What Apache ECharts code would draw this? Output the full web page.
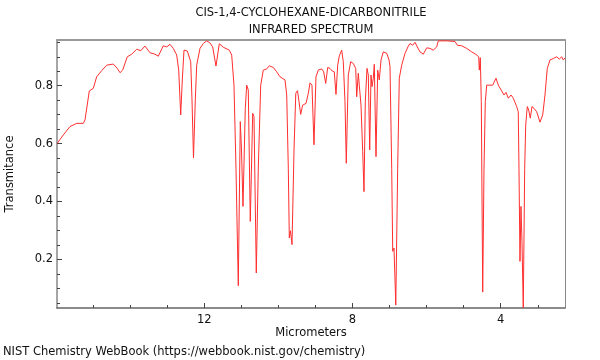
<!DOCTYPE html>
<html><head><meta charset="utf-8">
<script src="https://cdn.jsdelivr.net/npm/echarts@6/dist/echarts.min.js"></script>
<style>html,body{margin:0;padding:0;background:#fff}#c{width:600px;height:360px}</style>
</head><body><div id="c"></div>
<script>
const wavelength = [15.968,15.806,15.625,15.444,15.266,15.220,15.104,14.996,14.905,14.770,14.635,14.457,14.349,14.276,14.203,14.079,13.960,13.825,13.717,13.601,13.466,13.331,13.242,13.107,13.015,12.926,12.837,12.745,12.691,12.637,12.594,12.548,12.459,12.367,12.332,12.292,12.243,12.206,12.116,12.027,11.936,11.847,11.774,11.685,11.596,11.488,11.326,11.261,11.199,11.145,11.083,11.029,10.996,10.956,10.894,10.856,10.813,10.759,10.694,10.659,10.597,10.543,10.478,10.408,10.316,10.246,10.138,10.046,9.957,9.822,9.776,9.733,9.706,9.674,9.633,9.579,9.531,9.485,9.444,9.399,9.345,9.255,9.193,9.147,9.094,9.040,8.986,8.924,8.832,8.778,8.724,8.670,8.608,8.546,8.492,8.446,8.400,8.357,8.292,8.249,8.203,8.168,8.114,8.049,7.979,7.914,7.887,7.844,7.817,7.771,7.725,7.690,7.655,7.609,7.574,7.536,7.501,7.474,7.439,7.412,7.366,7.320,7.277,7.231,7.169,7.077,7.015,6.988,6.942,6.915,6.880,6.832,6.781,6.737,6.673,6.583,6.494,6.448,6.376,6.313,6.251,6.179,6.089,5.998,5.909,5.820,5.728,5.685,5.458,5.234,5.172,5.053,4.918,4.783,4.667,4.595,4.578,4.551,4.524,4.486,4.451,4.416,4.378,4.335,4.216,4.127,4.065,3.974,3.911,3.857,3.795,3.723,3.661,3.569,3.526,3.507,3.480,3.453,3.426,3.391,3.353,3.326,3.283,3.245,3.202,3.156,3.102,3.029,2.940,2.867,2.805,2.743,2.670,2.581,2.489,2.419,2.354,2.311,2.265];
const transmittance = [0.601,0.630,0.659,0.670,0.670,0.682,0.782,0.791,0.831,0.852,0.871,0.875,0.860,0.845,0.854,0.900,0.909,0.926,0.921,0.937,0.914,0.909,0.902,0.938,0.934,0.943,0.929,0.906,0.854,0.699,0.820,0.923,0.920,0.883,0.751,0.551,0.751,0.871,0.929,0.946,0.955,0.948,0.934,0.868,0.945,0.933,0.923,0.906,0.802,0.515,0.109,0.676,0.578,0.383,0.722,0.802,0.785,0.331,0.705,0.693,0.153,0.515,0.802,0.854,0.858,0.869,0.863,0.848,0.831,0.820,0.768,0.515,0.274,0.299,0.251,0.578,0.774,0.783,0.745,0.701,0.733,0.739,0.774,0.810,0.802,0.596,0.831,0.854,0.858,0.848,0.808,0.863,0.860,0.851,0.848,0.770,0.871,0.903,0.923,0.883,0.745,0.532,0.837,0.883,0.877,0.860,0.762,0.843,0.802,0.733,0.572,0.434,0.745,0.860,0.837,0.578,0.837,0.797,0.826,0.874,0.555,0.854,0.820,0.889,0.917,0.912,0.889,0.866,0.515,0.228,0.239,0.042,0.515,0.826,0.871,0.912,0.937,0.946,0.940,0.950,0.934,0.917,0.909,0.931,0.929,0.923,0.934,0.955,0.955,0.953,0.940,0.938,0.929,0.917,0.908,0.900,0.854,0.897,0.745,0.087,0.515,0.745,0.802,0.808,0.802,0.826,0.802,0.782,0.768,0.777,0.757,0.768,0.757,0.728,0.710,0.515,0.193,0.383,0.262,0.033,0.515,0.664,0.728,0.716,0.688,0.728,0.722,0.710,0.674,0.699,0.768,0.860,0.889,0.894,0.900,0.892,0.900,0.889,0.896];
const xLabelTicks = [4, 8, 12];
const xMinorTicks = [3, 5, 6, 7, 9, 10, 11, 13, 14, 15];
const yLabelTicks = [0.2, 0.4, 0.6, 0.8];
const yMinorTicks = [0.05, 0.1, 0.15, 0.25, 0.3, 0.35, 0.45, 0.5, 0.55, 0.65, 0.7, 0.75, 0.85, 0.9, 0.95];
const titleLines = ['CIS-1,4-CYCLOHEXANE-DICARBONITRILE', 'INFRARED SPECTRUM'];
const xName = 'Micrometers';
const yName = 'Transmitance';
const credit = 'NIST Chemistry WebBook (https://webbook.nist.gov/chemistry)';

const FONT = 'DejaVu Sans';
const FS = 11.5;
const X_MIN = 2.265, X_MAX = 15.976, Y_MIN = 0.032, Y_MAX = 0.958;
const chart = echarts.init(document.getElementById('c'), null, {renderer: 'canvas'});
const xBase = {type: 'value', min: X_MIN, max: X_MAX, inverse: true, position: 'bottom', splitLine: {show: false}};
const yBase = {type: 'value', min: Y_MIN, max: Y_MAX, position: 'left', splitLine: {show: false}};
const txt = (text, x, y, extra) => ({type: 'text', x, y, style: Object.assign({text, font: FS + 'px "' + FONT + '"', fill: '#111', textAlign: 'center', textVerticalAlign: 'middle'}, extra || {})});
chart.setOption({
  animation: false,
  backgroundColor: '#fff',
  grid: {left: 57, right: 35, top: 40, bottom: 52, outerBoundsMode: 'none', containLabel: false},
  xAxis: [
    Object.assign({}, xBase, {
      axisLine: {show: true, lineStyle: {color: '#666', width: 1.5}},
      axisTick: {show: true, inside: true, length: 5, customValues: xLabelTicks, lineStyle: {color: '#444'}},
      axisLabel: {show: true, customValues: xLabelTicks, margin: 6, color: '#111', fontFamily: FONT, fontSize: FS}
    }),
    Object.assign({}, xBase, {
      axisLine: {show: false},
      axisTick: {show: true, inside: true, length: 3, customValues: xMinorTicks, lineStyle: {color: '#444'}},
      axisLabel: {show: false}
    }),
    Object.assign({}, xBase, {position: 'top',
      axisLine: {show: true, lineStyle: {color: '#999', width: 2}},
      axisTick: {show: false}, axisLabel: {show: false}
    })
  ],
  yAxis: [
    Object.assign({}, yBase, {
      axisLine: {show: true, lineStyle: {color: '#888', width: 1.5}},
      axisTick: {show: true, inside: true, length: 5, customValues: yLabelTicks, lineStyle: {color: '#444'}},
      axisLabel: {show: true, customValues: yLabelTicks, margin: 4, color: '#111', fontFamily: FONT, fontSize: FS}
    }),
    Object.assign({}, yBase, {
      axisLine: {show: false},
      axisTick: {show: true, inside: true, length: 3, customValues: yMinorTicks, lineStyle: {color: '#444'}},
      axisLabel: {show: false}
    }),
    Object.assign({}, yBase, {position: 'right',
      axisLine: {show: true, lineStyle: {color: '#888', width: 1}},
      axisTick: {show: false}, axisLabel: {show: false}
    })
  ],
  series: [{
    type: 'line', xAxisIndex: 0, yAxisIndex: 0,
    data: wavelength.map((w, i) => [w, transmittance[i]]),
    showSymbol: false, symbol: 'none', smooth: false,
    lineStyle: {color: '#ff2e2e', width: 1},
    clip: true
  }],
  graphic: [
    txt(titleLines[0], 311, 13),
    txt(titleLines[1], 311, 30),
    txt(xName, 311, 333),
    Object.assign(txt(yName, 10, 174), {rotation: Math.PI / 2}),
    txt(credit, 3, 352, {textAlign: 'left'})
  ]
});
</script></body></html>
